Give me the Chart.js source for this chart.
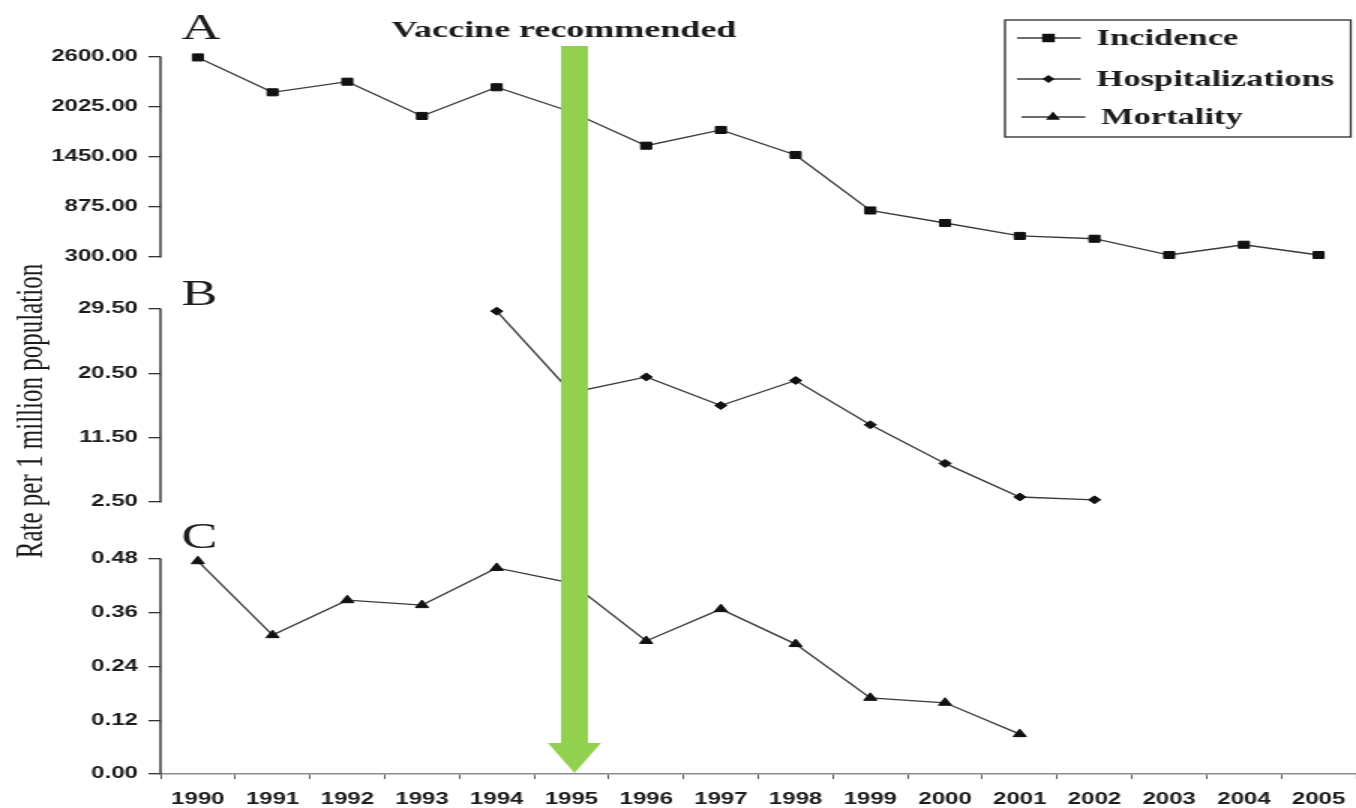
<!DOCTYPE html>
<html>
<head>
<meta charset="utf-8">
<title>Pertussis rates per 1 million population, 1990-2005</title>
<script src="https://cdn.jsdelivr.net/npm/chart.js@4.4.1/dist/chart.umd.min.js"></script>
<style>
  html, body { margin: 0; padding: 0; background: #ffffff; overflow: hidden; }
  #wrap { width: 1356px; height: 808px; overflow: hidden; }
  /* the figure is drawn on a narrower canvas and widened 1.5x horizontally */
  #chart { display: block; width: 1365px; height: 808px; }
</style>
</head>
<body>
<div id="wrap"><canvas id="chart" width="910" height="808" style="width:1365px;height:808px"></canvas></div>
<script>
// ---- data ----
const years = ['1990','1991','1992','1993','1994','1995','1996','1997',
               '1998','1999','2000','2001','2002','2003','2004','2005'];

// A: incidence
const incidence = [2595, 2194, 2316, 1922, 2252, 1968, 1580, 1761,
                   1473, 835, 691, 542, 510, 323, 441, 323];

// B: hospitalizations
const hospitalizations = [null, null, null, null, 29.2, 17.8, 20.0, 16.0,
                          19.5, 13.3, 7.9, 3.2, 2.8, null, null, null];

// C: mortality
const mortality = [0.475, 0.310, 0.388, 0.377, 0.460, 0.426, 0.297, 0.368,
                   0.290, 0.170, 0.159, 0.089, null, null, null, null];

// tick values of the three panels
const incidenceTicks = [300, 875, 1450, 2025, 2600];
const hospitalizationTicks = [2.5, 11.5, 20.5, 29.5];
const mortalityTicks = [0, 0.12, 0.24, 0.36, 0.48];

const vaccineYear = '1995';
const vaccineText = 'Vaccine recommended';
const yTitle = 'Rate per 1 million population';
const panelLetters = ['A', 'B', 'C'];

// ---- styling ----
const INK = '#1c1c1c';
const LINE = '#3a3a3a';
const tickFont = { family: '"Liberation Sans", Arial, sans-serif', size: 16, weight: 'bold' };
const SERIF = '"Liberation Serif", "Times New Roman", serif';

function panelAxis(tickValues, min, max, stackWeight, order) {
  return {
    type: 'linear',
    position: 'left',
    stack: 'panels',
    stackWeight: stackWeight,
    weight: order,
    min: min,
    max: max,
    border: { display: false },
    grid: { drawOnChartArea: false, drawTicks: true, tickLength: 8, color: '#333333', lineWidth: 1.3 },
    ticks: {
      padding: 7,
      color: INK,
      font: tickFont,
      callback: (v) => Number(v).toFixed(2)
    },
    afterBuildTicks: (scale) => { scale.ticks = tickValues.map(v => ({ value: v })); },
    afterFit: (scale) => { scale.width = 107; }
  };
}

// axis lines of each panel only span its own tick range
const panelAxisLines = {
  id: 'panelAxisLines',
  afterDraw(chart) {
    const ctx = chart.ctx;
    ctx.save();
    ctx.strokeStyle = '#2e2e2e';
    ctx.lineWidth = 1.4;
    ['yA', 'yB', 'yC'].forEach(id => {
      const s = chart.scales[id];
      const vals = s.ticks.map(t => t.value);
      const y1 = s.getPixelForValue(Math.max(...vals));
      const y2 = s.getPixelForValue(Math.min(...vals));
      ctx.beginPath();
      ctx.moveTo(s.right, y1 - 0.5);
      ctx.lineTo(s.right, y2 + 0.5);
      ctx.stroke();
    });
    ctx.restore();
  }
};

function drawMarker(ctx, style, x, y, r) {
  ctx.beginPath();
  if (style === 'rect') {
    const h = Math.SQRT1_2 * r;
    ctx.rect(x - h, y - h, 2 * h, 2 * h);
  } else if (style === 'rectRot') {
    ctx.moveTo(x, y - r); ctx.lineTo(x + r, y); ctx.lineTo(x, y + r); ctx.lineTo(x - r, y);
    ctx.closePath();
  } else {
    ctx.moveTo(x, y - r);
    ctx.lineTo(x + Math.sin(Math.PI * 2 / 3) * r, y - Math.cos(Math.PI * 2 / 3) * r);
    ctx.lineTo(x + Math.sin(Math.PI * 4 / 3) * r, y - Math.cos(Math.PI * 4 / 3) * r);
    ctx.closePath();
  }
  ctx.fill();
}

// arrow, annotation text, panel letters, axis title and framed legend
const decorations = {
  id: 'decorations',
  afterDatasetsDraw(chart) {
    const ctx = chart.ctx;
    const xs = chart.scales.x;
    const area = chart.chartArea;
    const cx = xs.getPixelForValue(years.indexOf(vaccineYear)) + 2;
    const headTop = area.bottom - 31;
    ctx.save();
    ctx.fillStyle = '#92d050';
    ctx.fillRect(cx - 9, 46, 18, headTop - 46);
    ctx.beginPath();
    ctx.moveTo(cx - 17.7, headTop);
    ctx.lineTo(cx + 17.7, headTop);
    ctx.lineTo(cx, area.bottom - 1);
    ctx.closePath();
    ctx.fill();
    ctx.restore();
  },
  afterDraw(chart) {
    const ctx = chart.ctx;
    const xs = chart.scales.x;
    const cx = xs.getPixelForValue(years.indexOf(vaccineYear));
    ctx.save();
    ctx.fillStyle = INK;

    // annotation above the arrow
    ctx.font = 'bold 24px ' + SERIF;
    ctx.textAlign = 'center';
    ctx.textBaseline = 'alphabetic';
    ctx.fillText(vaccineText, cx - 5, 37);

    // panel letters
    ctx.font = '36px ' + SERIF;
    ctx.textAlign = 'left';
    ctx.fillText(panelLetters[0], 121, 39);
    ctx.fillText(panelLetters[1], 121, 305);
    ctx.fillText(panelLetters[2], 121, 548);

    // shared y-axis title
    ctx.save();
    ctx.translate(21, 411);
    ctx.rotate(-Math.PI / 2);
    ctx.font = '25px ' + SERIF;
    ctx.textAlign = 'center';
    ctx.textBaseline = 'middle';
    ctx.fillText(yTitle, 0, 0);
    ctx.restore();

    // legend box
    const box = { x: 670, y: 20, w: 230.5, h: 117 };
    ctx.strokeStyle = '#2a2a2a';
    ctx.lineWidth = 1.3;
    ctx.strokeRect(box.x, box.y, box.w, box.h);
    const rows = [38, 79, 117];
    const markerSize = [6, 4, 5.5];
    chart.data.datasets.forEach((ds, i) => {
      const y = rows[i];
      const dx = i === 2 ? 3 : 0;
      ctx.strokeStyle = LINE;
      ctx.lineWidth = 1.3;
      ctx.beginPath();
      ctx.moveTo(678 + dx, y);
      ctx.lineTo(720.5 + dx, y);
      ctx.stroke();
      ctx.fillStyle = '#111111';
      drawMarker(ctx, ds.pointStyle, 699 + dx, y, markerSize[i]);
      ctx.fillStyle = INK;
      ctx.font = 'bold 23px ' + SERIF;
      ctx.textAlign = 'left';
      ctx.textBaseline = 'middle';
      ctx.fillText(ds.label, 731 + dx, y + 1);
    });
    ctx.restore();
  }
};

function lineDataset(label, data, axis, style, radius) {
  return {
    label: label,
    data: data,
    yAxisID: axis,
    borderColor: LINE,
    borderWidth: 1.3,
    pointStyle: style,
    pointRadius: radius,
    pointBackgroundColor: '#111111',
    pointBorderColor: '#111111',
    pointBorderWidth: 1,
    tension: 0,
    fill: false,
    spanGaps: false
  };
}

new Chart(document.getElementById('chart'), {
  type: 'line',
  data: {
    labels: years,
    datasets: [
      lineDataset('Incidence', incidence, 'yA', 'rect', 5),
      lineDataset('Hospitalizations', hospitalizations, 'yB', 'rectRot', 4),
      lineDataset('Mortality', mortality, 'yC', 'triangle', 5)
    ]
  },
  options: {
    responsive: false,
    animation: false,
    devicePixelRatio: 1,
    layout: { padding: { top: 32, right: 1, bottom: 0, left: 0 } },
    plugins: {
      legend: { display: false },
      tooltip: { enabled: false },
      title: { display: false }
    },
    scales: {
      x: {
        type: 'category',
        offset: true,
        border: { display: true, color: '#8c8c8c', width: 1.5 },
        grid: { offset: true, drawOnChartArea: false, drawTicks: true, tickLength: 5, color: '#555555', lineWidth: 1 },
        ticks: { padding: 11, color: INK, font: tickFont, maxRotation: 0, autoSkip: false },
        afterFit: (scale) => { scale.height = 34; }
      },
      yA: panelAxis(incidenceTicks, 1, 2887.5, 251, 3),
      yB: panelAxis(hospitalizationTicks, -1.417, 33.14, 247, 2),
      yC: panelAxis(mortalityTicks, 0, 0.5447, 244, 1)
    }
  },
  plugins: [panelAxisLines, decorations]
});
</script>
</body>
</html>
